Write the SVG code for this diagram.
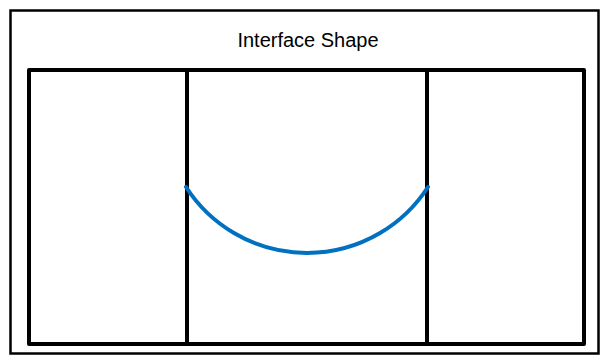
<svg xmlns="http://www.w3.org/2000/svg" width="603" height="363" viewBox="0 0 603 363">
<style>
.frame{fill:none;stroke:#000;stroke-width:2.5}
.box{fill:none;stroke:#000;stroke-width:4;stroke-linejoin:round}
.div{stroke:#000;stroke-width:4}
.curve{fill:none;stroke:#0070C0;stroke-width:4;stroke-linecap:round}
.title{font-family:"Liberation Sans",Arial,sans-serif;font-size:20px;fill:#000}
</style>
<rect width="603" height="363" fill="#fff"/>
<g id="frame">
<rect class="frame" x="10.5" y="10.5" width="588" height="343"/>
<text class="title" x="308" y="47" text-anchor="middle">Interface Shape</text>
</g>
<g id="box">
<rect class="box" x="29" y="70" width="555" height="274"/>
<line class="div" x1="187" y1="70" x2="187" y2="344"/>
<line class="div" x1="427" y1="70" x2="427" y2="344"/>
</g>
<g id="connectors">
<path class="curve" d="M186,187 A144,144 0 0 0 428,187"/>
</g>
</svg>
